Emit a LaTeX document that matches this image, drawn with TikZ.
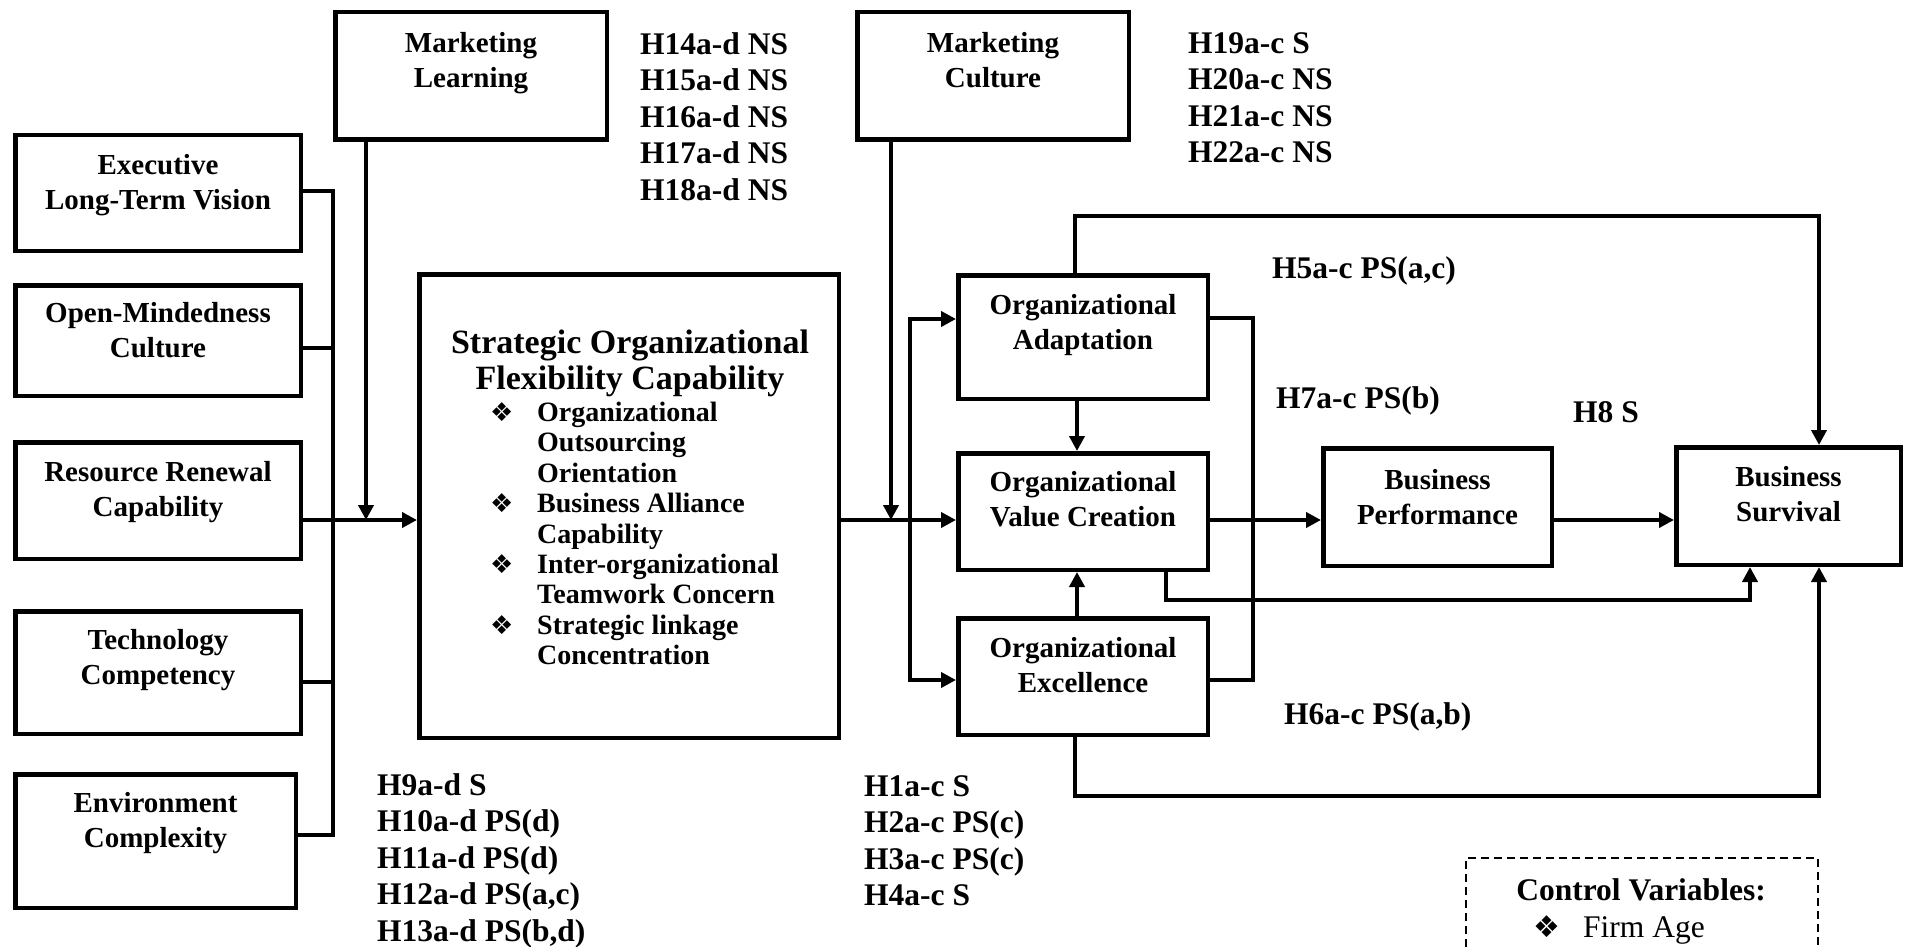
\documentclass[tikz,border=0pt]{standalone}
\usepackage{fontspec}
\setmainfont{Liberation Serif}
\newfontfamily\dingfont{DejaVu Sans}
\usetikzlibrary{arrows.meta}

% diamond bullets, raised so that the centre sits at a given height above the baseline
\newsavebox\diabox
\newsavebox\ctrldiabox
\AtBeginDocument{%
  \sbox\diabox{\dingfont\fontsize{26}{26}\selectfont ❖}%
  \sbox\ctrldiabox{\dingfont\fontsize{30}{30}\selectfont ❖}}
\newcommand{\dia}[1]{\raisebox{\dimexpr #1-0.5\ht\diabox+0.5\dp\diabox\relax}{\usebox\diabox}}

\begin{document}
\begin{tikzpicture}[x=1pt,y=-1pt,
  box/.style={draw,line width=4.5pt,rectangle,inner sep=0pt},
  btxt/.style={align=center,inner sep=0pt,font=\fontsize{29}{34.5}\selectfont\bfseries},
  hyp/.style={align=left,inner sep=0pt,font=\fontsize{31.5}{36.5}\selectfont\bfseries},
  conn/.style={line width=4.2pt},
  arr/.style={conn,-{Triangle[length=15pt,width=15pt]}},
]
\fill[white] (0,0) rectangle (1905,947);
\useasboundingbox (0,0) rectangle (1905,947);

% ---------- antecedents ----------
\node[box,minimum width=285.5pt,minimum height=115.5pt] (ex) at (158,193) {};
\node[btxt] (ex-t) at (158,185.2) {Executive\\Long-Term Vision};
\node[box,minimum width=285.5pt,minimum height=110.5pt] (om) at (158,340.5) {};
\node[btxt] (om-t) at (158,330) {Open-Mindedness\\Culture};
\node[box,minimum width=285.5pt,minimum height=116.5pt] (rr) at (158,500.5) {};
\node[btxt] (rr-t) at (158,492.2) {Resource Renewal\\Capability};
\node[box,minimum width=285.5pt,minimum height=122.5pt] (tc) at (158,672.5) {};
\node[btxt] (tc-t) at (158,660.2) {Technology\\Competency};
\node[box,minimum width=280.5pt,minimum height=133.5pt] (ec) at (155.5,841) {};
\node[btxt] (ec-t) at (155.5,823.2) {Environment\\Complexity};

% ---------- moderators ----------
\node[box,minimum width=271.5pt,minimum height=127.5pt] (ml) at (471,76) {};
\node[btxt] (ml-t) at (471,63.2) {Marketing\\Learning};
\node[box,minimum width=271.5pt,minimum height=127.5pt] (mc) at (993,76) {};
\node[btxt] (mc-t) at (993,60) {Marketing\\Culture};

% ---------- strategic organizational flexibility capability ----------
\node[box,minimum width=419.5pt,minimum height=463.5pt] (sofc) at (629,506) {};
\node[align=center,inner sep=0pt,font=\fontsize{34}{36}\selectfont\bfseries] (sofc-t) at (630,363)
  {Strategic Organizational\\Flexibility Capability};
\node[inner sep=0pt,anchor=north west,font=\fontsize{28}{30.4}\selectfont\bfseries] (sofc-list) at (490,400)
  {\begin{tabular}{@{}p{47pt}@{}l@{}}
   \dia{9.3pt} & Organizational\\
               & Outsourcing\\
               & Orientation\\
   \dia{9.3pt} & Business Alliance\\
               & Capability\\
   \dia{9.3pt} & Inter-organizational\\
               & Teamwork Concern\\
   \dia{9.3pt} & Strategic linkage\\
               & Concentration
   \end{tabular}};

% ---------- consequences ----------
\node[box,minimum width=249.5pt,minimum height=123.5pt] (oa) at (1083,337) {};
\node[btxt] (oa-t) at (1083,325.2) {Organizational\\Adaptation};
\node[box,minimum width=249.5pt,minimum height=116.5pt] (ovc) at (1083,511.5) {};
\node[btxt] (ovc-t) at (1083,499) {Organizational\\Value Creation};
\node[box,minimum width=249.5pt,minimum height=116.5pt] (oe) at (1083,676.5) {};
\node[btxt] (oe-t) at (1083,665) {Organizational\\Excellence};
\node[box,minimum width=228.5pt,minimum height=117.5pt] (bp) at (1437.5,507) {};
\node[btxt] (bp-t) at (1437.5,497) {Business\\Performance};
\node[box,minimum width=224.5pt,minimum height=117.5pt] (bs) at (1788.5,506) {};
\node[btxt] (bs-t) at (1788.5,494) {Business\\Survival};

% ---------- junction points ----------
\coordinate (busN) at (333,191);
\coordinate (busS) at (333,835);
\coordinate (omJ) at (333,348);
\coordinate (tcJ) at (333,682);
\coordinate (inJ) at (366,520);
\coordinate (outJ) at (910,520);
\coordinate (mcJ) at (891,520);
\coordinate (splitN) at (910,319);
\coordinate (splitS) at (910,680);
\coordinate (vx) at (1077,0);
\coordinate (topL) at (1075,216);
\coordinate (topR) at (1819,216);
\coordinate (brN) at (1253,318);
\coordinate (brS) at (1253,680);
\coordinate (lowA) at (1166,600);
\coordinate (lowB) at (1750,600);
\coordinate (botA) at (1075,796);
\coordinate (botB) at (1819,796);

% ---------- connectors ----------
\draw[conn] (ex.east |- busN) -- (busN) -- (busS) -- (ec.east |- busS);
\draw[conn] (om.east |- omJ) -- (omJ);
\draw[conn] (tc.east |- tcJ) -- (tcJ);
\draw[arr] (rr.east |- inJ) -- (sofc.west |- inJ);
\draw[arr] (ml.south -| inJ) -- (inJ);

\draw[conn] (sofc.east |- outJ) -- (outJ);
\draw[arr] (outJ) -- (ovc.west |- outJ);
\draw[arr] (outJ) -- (splitN) -- (oa.west |- splitN);
\draw[arr] (outJ) -- (splitS) -- (oe.west |- splitS);
\draw[arr] (mc.south -| mcJ) -- (mcJ);

\draw[arr] (oa.south -| vx) -- (ovc.north -| vx);
\draw[arr] (oe.north -| vx) -- (ovc.south -| vx);
\draw[conn] (oa.east |- brN) -- (brN) -- (brS) -- (oe.east |- brS);

\draw[arr] (oa.north -| topL) -- (topL) -- (topR) -- (bs.north -| topR);
\draw[arr] (ovc.east |- outJ) -- (bp.west |- outJ);
\draw[arr] (bp.east |- outJ) -- (bs.west |- outJ);
\draw[arr] (ovc.south -| lowA) -- (lowA) -- (lowB) -- (bs.south -| lowB);
\draw[arr] (oe.south -| botA) -- (botA) -- (botB) -- (bs.south -| botB);

% ---------- hypothesis results ----------
\node[hyp,anchor=north west] (h14) at (640,32) {H14a-d NS\\H15a-d NS\\H16a-d NS\\H17a-d NS\\H18a-d NS};
\node[hyp,anchor=north west] (h19) at (1188,32) {H19a-c S\\H20a-c NS\\H21a-c NS\\H22a-c NS};
\node[hyp,anchor=north west] (h9) at (377,773) {H9a-d S\\H10a-d PS(d)\\H11a-d PS(d)\\H12a-d PS(a,c)\\H13a-d PS(b,d)};
\node[hyp,anchor=north west] (h1) at (864,775) {H1a-c S\\H2a-c PS(c)\\H3a-c PS(c)\\H4a-c S};
\node[hyp,anchor=base west] (h5) at (1272,278.4) {H5a-c PS(a,c)};
\node[hyp,anchor=base west] (h7) at (1276,408.4) {H7a-c PS(b)};
\node[hyp,anchor=base west] (h8) at (1573,422.4) {H8 S};
\node[hyp,anchor=base west] (h6) at (1284,724.4) {H6a-c PS(a,b)};

% ---------- control variables ----------
\draw[line width=1.5pt,dash pattern=on 8pt off 5pt] (1466,947) -- (1466,858) -- (1818,858) -- (1818,947);
\node[inner sep=0pt,anchor=base,font=\fontsize{31.5}{36}\selectfont\bfseries] (ctrl-t) at (1641,900.5) {Control Variables:};
\node[inner sep=0pt] (ctrl-dia) at (1547,927) {\usebox\ctrldiabox};
\node[inner sep=0pt,anchor=base west,font=\fontsize{31.5}{36}\selectfont] (ctrl-i) at (1583,937.5) {Firm Age};
\end{tikzpicture}
\end{document}
